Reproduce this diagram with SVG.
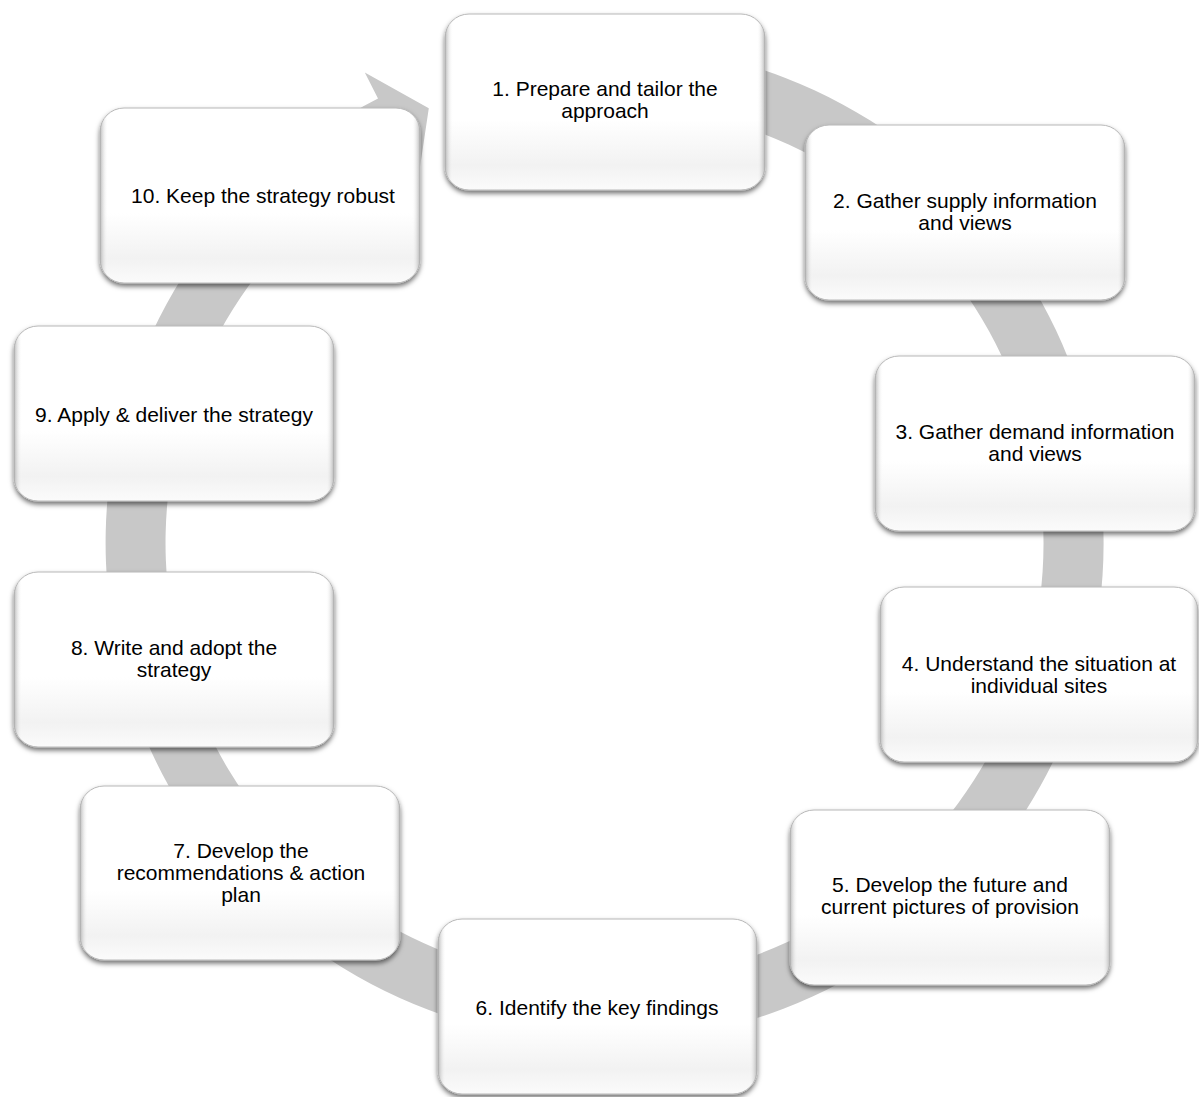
<svg xmlns="http://www.w3.org/2000/svg" width="1199" height="1097" viewBox="0 0 1199 1097">
<style>
.lbl{font-family:"Liberation Sans",Arial,sans-serif;font-size:21px;fill:#000;text-anchor:middle}
.box{fill:url(#vg);stroke:#b8b8b8;stroke-width:1;filter:url(#sh)}
.edge{fill:url(#hg);stroke:none}
</style>
<defs>
<linearGradient id="vg" x1="0" y1="0" x2="0" y2="1">
<stop offset="0" stop-color="#ffffff"/>
<stop offset="0.6" stop-color="#ffffff"/>
<stop offset="0.86" stop-color="#f2f2f2"/>
<stop offset="1" stop-color="#fbfbfb"/>
</linearGradient>
<linearGradient id="hg" x1="0" y1="0" x2="1" y2="0">
<stop offset="0" stop-color="#9a9a9a" stop-opacity="0.7"/>
<stop offset="0.025" stop-color="#ffffff" stop-opacity="0"/>
<stop offset="0.975" stop-color="#ffffff" stop-opacity="0"/>
<stop offset="1" stop-color="#9a9a9a" stop-opacity="0.7"/>
</linearGradient>
<filter id="sh" x="-10%" y="-10%" width="120%" height="125%">
<feDropShadow dx="0" dy="3" stdDeviation="2.5" flood-color="#000" flood-opacity="0.55"/>
</filter>
</defs>
<rect width="1199" height="1097" fill="#fff"/>
<g id="connectors">
<path d="M 475.4 61.0 A 499 499 0 1 1 378.0 98.4 L 364.8 72.6 L 428.8 108.2 L 418.4 177.7 L 405.2 151.9 A 439 439 0 1 0 490.9 119.0 Z" fill="#c8c8c8"/>
</g>
<g id="node1"><rect class="box" x="445" y="14" width="320" height="176" rx="24"/><rect class="edge" x="445" y="14" width="320" height="176" rx="24"/>
<text class="lbl" x="605" y="96">1. Prepare and tailor the</text><text class="lbl" x="605" y="118">approach</text></g>
<g id="node2"><rect class="box" x="805" y="125" width="320" height="175" rx="24"/><rect class="edge" x="805" y="125" width="320" height="175" rx="24"/>
<text class="lbl" x="965" y="208">2. Gather supply information</text><text class="lbl" x="965" y="230">and views</text></g>
<g id="node3"><rect class="box" x="875" y="356" width="320" height="175" rx="24"/><rect class="edge" x="875" y="356" width="320" height="175" rx="24"/>
<text class="lbl" x="1035" y="439">3. Gather demand information</text><text class="lbl" x="1035" y="461">and views</text></g>
<g id="node4"><rect class="box" x="880" y="587" width="318" height="175" rx="24"/><rect class="edge" x="880" y="587" width="318" height="175" rx="24"/>
<text class="lbl" x="1039" y="671">4. Understand the situation at</text><text class="lbl" x="1039" y="693">individual sites</text></g>
<g id="node5"><rect class="box" x="790" y="810" width="320" height="175" rx="24"/><rect class="edge" x="790" y="810" width="320" height="175" rx="24"/>
<text class="lbl" x="950" y="892">5. Develop the future and</text><text class="lbl" x="950" y="914">current pictures of provision</text></g>
<g id="node6"><rect class="box" x="438" y="919" width="319" height="175" rx="24"/><rect class="edge" x="438" y="919" width="319" height="175" rx="24"/>
<text class="lbl" x="597" y="1015">6. Identify the key findings</text></g>
<g id="node7"><rect class="box" x="80" y="786" width="320" height="174" rx="24"/><rect class="edge" x="80" y="786" width="320" height="174" rx="24"/>
<text class="lbl" x="241" y="858">7. Develop the</text><text class="lbl" x="241" y="880">recommendations &amp; action</text><text class="lbl" x="241" y="902">plan</text></g>
<g id="node8"><rect class="box" x="14" y="572" width="320" height="175" rx="24"/><rect class="edge" x="14" y="572" width="320" height="175" rx="24"/>
<text class="lbl" x="174" y="655">8. Write and adopt the</text><text class="lbl" x="174" y="677">strategy</text></g>
<g id="node9"><rect class="box" x="14" y="326" width="320" height="175" rx="24"/><rect class="edge" x="14" y="326" width="320" height="175" rx="24"/>
<text class="lbl" x="174" y="422">9. Apply &amp; deliver the strategy</text></g>
<g id="node10"><rect class="box" x="100" y="108" width="320" height="175" rx="24"/><rect class="edge" x="100" y="108" width="320" height="175" rx="24"/>
<text class="lbl" x="263" y="203">10. Keep the strategy robust</text></g>
</svg>
